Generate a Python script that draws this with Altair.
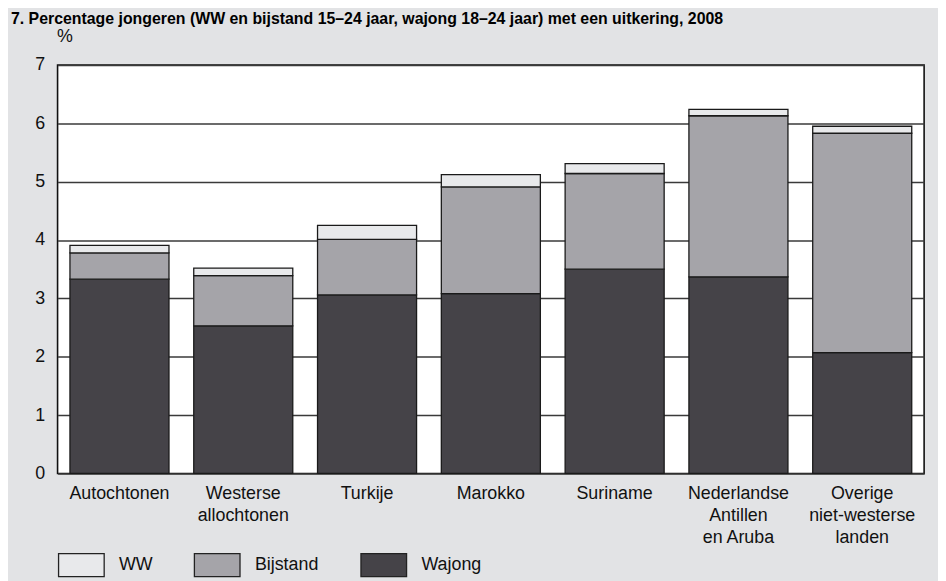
import altair as alt
import pandas as pd

categories = [
    "Autochtonen",
    "Westerse\nallochtonen",
    "Turkije",
    "Marokko",
    "Suriname",
    "Nederlandse\nAntillen\nen Aruba",
    "Overige\nniet-westerse\nlanden",
]
series = ["WW", "Bijstand", "Wajong"]
wajong = [3.33, 2.53, 3.06, 3.08, 3.50, 3.37, 2.07]
bijstand = [0.45, 0.86, 0.95, 1.83, 1.64, 2.76, 3.76]
ww = [0.13, 0.13, 0.24, 0.21, 0.17, 0.11, 0.12]
y_ticks = [0, 1, 2, 3, 4, 5, 6, 7]
colors = ["#e8e9eb", "#a5a4a9", "#454348"]

rows = []
for i, c in enumerate(categories):
    rows.append({"cat": c, "serie": "Wajong", "val": wajong[i], "ord": 0})
    rows.append({"cat": c, "serie": "Bijstand", "val": bijstand[i], "ord": 1})
    rows.append({"cat": c, "serie": "WW", "val": ww[i], "ord": 2})
df = pd.DataFrame(rows)

FONT = "Liberation Sans"

chart = alt.Chart(df).mark_bar(stroke="#1a1a1a", strokeWidth=1.3).encode(
    x=alt.X("cat:N", sort=categories,
            scale=alt.Scale(paddingInner=0.2, paddingOuter=0.1),
            axis=alt.Axis(title=None, labelAngle=0, ticks=False, domain=False,
                          labelExpr="split(datum.label, '\\n')",
                          labelFontSize=18, labelLineHeight=22.5,
                          labelPadding=11, labelColor="#111", labelFont=FONT,
                          labelBaseline="top")),
    y=alt.Y("val:Q", stack="zero",
            scale=alt.Scale(domain=[0, 7], nice=False),
            axis=alt.Axis(values=y_ticks, title="%", titleAngle=0,
                          titleAlign="left", titleBaseline="alphabetic",
                          titleX=-1, titleY=-24, titleFontSize=18,
                          titleFontWeight="normal", titleFont=FONT,
                          titleColor="#111",
                          ticks=False, domain=False, grid=True,
                          gridColor="#3a3a3a", gridWidth=1.6,
                          labelFontSize=18, labelFont=FONT, labelColor="#111",
                          labelPadding=13)),
    color=alt.Color("serie:N", sort=series,
                    scale=alt.Scale(domain=series, range=colors),
                    legend=alt.Legend(title=None, orient="none",
                                      direction="horizontal",
                                      legendX=0, legendY=480,
                                      symbolType="M-1,-0.5L1,-0.5L1,0.5L-1,0.5Z",
                                      symbolSize=2116,
                                      symbolStrokeColor="#222",
                                      symbolStrokeWidth=1.3,
                                      symbolOpacity=1,
                                      labelFontSize=18, labelFont=FONT,
                                      labelColor="#111", labelOffset=14,
                                      columnPadding=39)),
    order=alt.Order("ord:Q"),
).properties(
    width=874,
    height=412,
    title=alt.TitleParams(
        "7. Percentage jongeren (WW en bijstand 15–24 jaar, wajong 18–24 jaar) met een uitkering, 2008",
        anchor="start", frame="group", fontSize=16, fontWeight="bold",
        font=FONT, color="#000", dx=-47, baseline="top", dy=4),
    autosize=alt.AutoSizeParams(type="none"),
    padding={"left": 50, "top": 55, "right": 14, "bottom": 106},
    background="#e2e3e5",
).configure_view(
    fill="white", stroke="#111", strokeWidth=1.6
)

chart.save("out.html", embed_options={"renderer": "svg", "actions": False})
